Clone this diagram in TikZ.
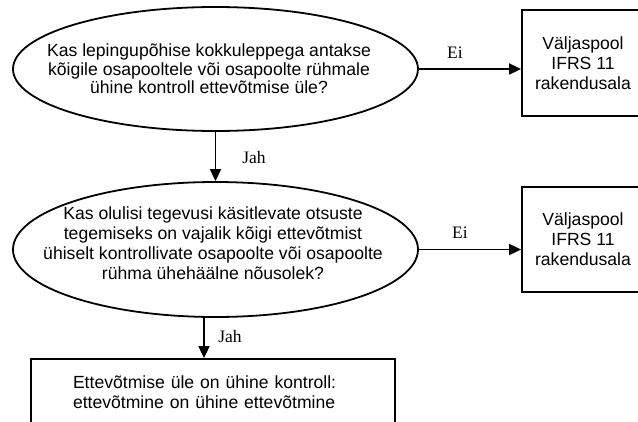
\documentclass[tikz,border=0pt]{standalone}
\usepackage{fontspec}
\setmainfont{Liberation Sans}
\newfontfamily\labelfont{Liberation Serif}
\usetikzlibrary{shapes.geometric,arrows.meta}
\tikzset{
        question/.style={shape=ellipse, draw, line width=1.8pt, inner sep=0pt, minimum width=405pt},
        outbox/.style={shape=rectangle, draw, line width=1.8pt, inner sep=0pt, align=center,
                minimum width=122pt},
        answer/.style={font=\labelfont\fontsize{17.5}{20}\selectfont, inner sep=0pt},
        flow/.style={line width=1.8pt, -{Triangle[length=12pt,width=11pt]}}
}

\begin{document}
\begin{tikzpicture}[x=1pt, y=-1pt, font=\fontsize{17.6}{20}\selectfont]
        \useasboundingbox (0,0) rectangle (638,421);
        \clip (0,0) rectangle (638,421);

        \node (q1) [question, minimum height=124pt] at (215.5,69) {};
        \node (q1text) [align=center, font=\fontsize{17.6}{18.7}\selectfont] at (209,69)
                {Kas lepingupõhise kokkuleppega antakse\\kõigile osapooltele või osapoolte rühmale\\ühine kontroll ettevõtmise üle?};
        \node (out1) [outbox, minimum height=106pt] at (583,63)
                {Väljaspool\\IFRS 11\\rakendusala};
        \node (q2) [question, minimum height=135pt] at (215.5,249.5) {};
        \node (q2text) [align=center] at (213,243)
                {Kas olulisi tegevusi käsitlevate otsuste\\tegemiseks on vajalik kõigi ettevõtmist\\ühiselt kontrollivate osapoolte või osapoolte\\rühma ühehäälne nõusolek?};
        \node (out2) [outbox, minimum height=105pt] at (583,239.5)
                {Väljaspool\\IFRS 11\\rakendusala};
        \node (res) [shape=rectangle, draw, line width=1.8pt, inner ysep=0pt, inner xsep=42pt,
                text width=280pt, align=left, minimum height=66pt] at (213,392)
                {Ettevõtmise üle on ühine kontroll:\\ettevõtmine on ühine ettevõtmine};

        \node (ei1) [answer] at (455,53) {Ei};
        \node (ei2) [answer] at (460,233) {Ei};
        \node (jah1) [answer] at (254,158) {Jah};
        \node (jah2) [answer] at (230,337) {Jah};

        \draw [flow] (q1.east) -- (q1.east -| out1.west);
        \draw [flow] (q2.east) -- (q2.east -| out2.west);
        \draw [flow] (q1.south) -- (q2.north);
        \draw [flow] ([xshift=-11.5pt]q2.south) -- ([xshift=-11.5pt]q2.south |- res.north);
\end{tikzpicture}
\end{document}
